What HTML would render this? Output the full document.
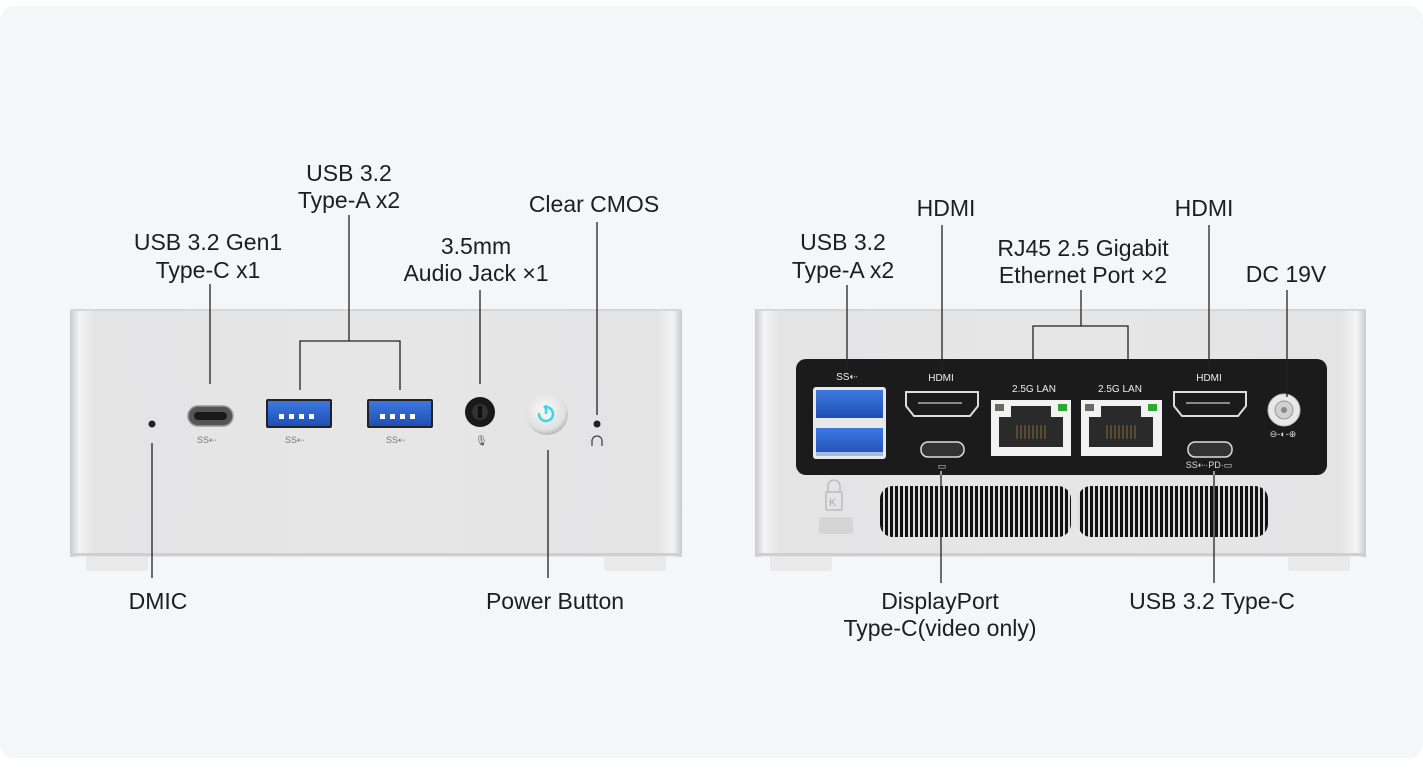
<!DOCTYPE html>
<html><head><meta charset="utf-8"><style>
html,body{margin:0;padding:0;background:#fff;width:1423px;height:784px;overflow:hidden}
svg{display:block}
text{font-family:"Liberation Sans",sans-serif;fill:#1e1e1e}
</style></head><body>
<svg width="1423" height="784" viewBox="0 0 1423 784" xmlns="http://www.w3.org/2000/svg">
<defs>
<linearGradient id="face" x1="0" x2="1" y1="0" y2="0">
<stop offset="0" stop-color="#c9c9cb"/><stop offset="0.015" stop-color="#f4f4f5"/><stop offset="0.04" stop-color="#e4e4e5"/>
<stop offset="0.5" stop-color="#e6e6e7"/><stop offset="0.96" stop-color="#e4e4e5"/><stop offset="0.985" stop-color="#f4f4f5"/><stop offset="1" stop-color="#c9c9cb"/>
</linearGradient>
<linearGradient id="blue" x1="0" x2="0" y1="0" y2="1"><stop offset="0" stop-color="#3d78e0"/><stop offset="1" stop-color="#1f4fb5"/></linearGradient>
<radialGradient id="btn" cx="0.45" cy="0.4" r="0.6"><stop offset="0" stop-color="#fafafa"/><stop offset="0.8" stop-color="#e0e0e0"/><stop offset="1" stop-color="#b8b8b8"/></radialGradient>
<pattern id="vent" width="5" height="10" patternUnits="userSpaceOnUse"><rect width="5" height="10" fill="#ddd"/><rect width="3" height="10" fill="#111"/></pattern>
</defs>
<rect x="0" y="0" width="1423" height="784" fill="#fff"/>
<rect x="0" y="6" width="1423" height="752" rx="14" fill="#f5f6f8"/>

<!-- FRONT DEVICE -->
<rect x="86" y="553" width="62" height="18" rx="3" fill="#e9e9ea"/>
<rect x="604" y="553" width="62" height="18" rx="3" fill="#e9e9ea"/>
<rect x="70" y="309" width="612" height="248" fill="url(#face)"/>
<rect x="70" y="309" width="612" height="2" fill="#d7d7d8"/>
<rect x="70" y="553" width="612" height="3" fill="#cfcfd0"/>
<circle cx="152" cy="424" r="3.5" fill="#222"/>
<rect x="188" y="406" width="45" height="20" rx="10" fill="#555" stroke="#999" stroke-width="1.5"/>
<rect x="194" y="412" width="33" height="8" rx="4" fill="#1a1a1a"/>
<rect x="266" y="399" width="66" height="29" rx="2" fill="#222"/>
<rect x="268" y="401" width="62" height="25" fill="url(#blue)"/>
<g fill="#fff"><rect x="279" y="414" width="5" height="5"/><rect x="289" y="414" width="5" height="5"/><rect x="299" y="414" width="5" height="5"/><rect x="309" y="414" width="5" height="5"/></g>
<rect x="367" y="399" width="66" height="29" rx="2" fill="#222"/>
<rect x="369" y="401" width="62" height="25" fill="url(#blue)"/>
<g fill="#fff"><rect x="380" y="414" width="5" height="5"/><rect x="390" y="414" width="5" height="5"/><rect x="400" y="414" width="5" height="5"/><rect x="410" y="414" width="5" height="5"/></g>
<g font-size="9" fill="#777"><text x="197" y="443" style="fill:#777">SS⇠</text><text x="285" y="443" style="fill:#777">SS⇠</text><text x="386" y="443" style="fill:#777">SS⇠</text></g>
<circle cx="480" cy="412" r="15" fill="#1a1a1a"/><circle cx="480" cy="412" r="8" fill="#333"/><rect x="478" y="406" width="4" height="12" fill="#111"/>
<text x="475" y="444" font-size="10" style="fill:#555">🎙</text>
<circle cx="547" cy="414" r="21" fill="url(#btn)"/>
<circle cx="546" cy="414" r="7" fill="none" stroke="#3ad8e6" stroke-width="2.5" stroke-dasharray="36 8" transform="rotate(-110 546 414)"/>
<line x1="546" y1="405" x2="546" y2="414" stroke="#3ad8e6" stroke-width="2.5"/>
<circle cx="597" cy="424" r="3.5" fill="#222"/>
<path d="M592 446 v-5 a5 5 0 0 1 10 0 v5" fill="none" stroke="#444" stroke-width="1.3"/>

<!-- front connectors -->
<g stroke="#222" stroke-width="1.3" fill="none">
<line x1="210" y1="284" x2="210" y2="384"/>
<line x1="349" y1="215" x2="349" y2="341"/>
<polyline points="300,390 300,341 400,341 400,390"/>
<line x1="480" y1="290" x2="480" y2="384"/>
<line x1="597" y1="222" x2="597" y2="415"/>
<line x1="152" y1="443" x2="152" y2="578"/>
<line x1="548" y1="450" x2="548" y2="578"/>
</g>
<g font-size="23" text-anchor="middle">
<text x="349" y="181">USB 3.2</text><text x="349" y="208">Type-A x2</text>
<text x="208" y="250">USB 3.2 Gen1</text><text x="208" y="278">Type-C x1</text>
<text x="476" y="254">3.5mm</text><text x="476" y="281">Audio Jack ×1</text>
<text x="594" y="212">Clear CMOS</text>
<text x="158" y="609">DMIC</text>
<text x="555" y="609">Power Button</text>
</g>

<!-- BACK DEVICE -->
<rect x="770" y="553" width="62" height="18" rx="3" fill="#e9e9ea"/>
<rect x="1288" y="553" width="62" height="18" rx="3" fill="#e9e9ea"/>
<rect x="755" y="309" width="611" height="248" fill="url(#face)"/>
<rect x="755" y="309" width="611" height="2" fill="#d7d7d8"/>
<rect x="755" y="553" width="611" height="3" fill="#cfcfd0"/>
<rect x="796" y="359" width="531" height="116" rx="10" fill="#1b1b1c"/>
<g font-size="10" text-anchor="middle" style="fill:#eee">
<text x="847" y="380" style="fill:#eee">SS⇠</text>
<text x="941" y="381" style="fill:#eee">HDMI</text>
<text x="1034" y="392" style="fill:#eee">2.5G LAN</text>
<text x="1120" y="392" style="fill:#eee">2.5G LAN</text>
<text x="1209" y="381" style="fill:#eee">HDMI</text>
<text x="1209" y="468" font-size="9" style="fill:#ddd">SS⇠·PD·▭</text>
<text x="1283" y="437" font-size="9" style="fill:#ddd">⊖-◐-⊕</text>
<text x="942" y="469" font-size="9" style="fill:#ddd">▭</text>
</g>
<rect x="813" y="387" width="73" height="72" rx="3" fill="#e8e8e8"/>
<rect x="816" y="390" width="67" height="28" fill="url(#blue)"/>
<rect x="816" y="428" width="67" height="28" fill="url(#blue)"/>
<rect x="816" y="452" width="67" height="4" fill="#fff" opacity="0.6"/>
<g fill="#1b1b1c" stroke="#ddd" stroke-width="2">
<path d="M906 392 h72 v14 l-8 10 h-56 l-8 -10 z"/>
<path d="M1174 392 h72 v14 l-8 10 h-56 l-8 -10 z"/>
</g>
<rect x="918" y="402" width="44" height="2" fill="#888"/><rect x="1186" y="402" width="44" height="2" fill="#888"/>
<rect x="921" y="442" width="43" height="15" rx="7" fill="#333" stroke="#ddd" stroke-width="1.5"/>
<rect x="1188" y="442" width="44" height="15" rx="7" fill="#333" stroke="#ddd" stroke-width="1.5"/>
<g>
<rect x="991" y="400" width="80" height="56" fill="#f2f2f2"/>
<path d="M999 417 h12 v-11 h40 v11 h12 v30 h-64 z" fill="#2a2a2a"/>
<rect x="995" y="404" width="9" height="7" fill="#6a6a60"/><rect x="1058" y="404" width="9" height="7" fill="#2fa82f"/>
<rect x="1081" y="400" width="81" height="56" fill="#f2f2f2"/>
<path d="M1089 417 h12 v-11 h40 v11 h12 v30 h-64 z" fill="#2a2a2a"/>
<rect x="1085" y="404" width="9" height="7" fill="#6a6a60"/><rect x="1148" y="404" width="9" height="7" fill="#2fa82f"/>
<g stroke="#8a6a3a" stroke-width="1"><path d="M1017 425 v14 M1021 425 v14 M1025 425 v14 M1029 425 v14 M1033 425 v14 M1037 425 v14 M1041 425 v14 M1045 425 v14"/><path d="M1107 425 v14 M1111 425 v14 M1115 425 v14 M1119 425 v14 M1123 425 v14 M1127 425 v14 M1131 425 v14 M1135 425 v14"/></g>
</g>
<circle cx="1284" cy="410" r="16" fill="#e8e8e8" stroke="#bbb"/><circle cx="1284" cy="410" r="9" fill="#d0d0d0" stroke="#999"/><circle cx="1284" cy="410" r="3" fill="#888"/>
<path d="M828 492 v-6 a6 6 0 0 1 12 0 v6" fill="none" stroke="#bbb" stroke-width="1.5"/>
<rect x="826" y="492" width="16" height="18" rx="1" fill="none" stroke="#bbb" stroke-width="1.5"/>
<text x="829" y="506" font-size="11" style="fill:#aaa">K</text>
<rect x="819" y="517" width="34" height="17" rx="2" fill="#d5d5d6"/>
<rect x="880" y="486" width="191" height="51" rx="13" fill="url(#vent)"/>
<rect x="1078" y="486" width="190" height="51" rx="13" fill="url(#vent)"/>

<g stroke="#222" stroke-width="1.3" fill="none">
<line x1="847" y1="285" x2="847" y2="370"/>
<line x1="942" y1="225" x2="942" y2="370"/>
<line x1="1081" y1="290" x2="1081" y2="326"/>
<polyline points="1033,360 1033,326 1128,326 1128,360"/>
<line x1="1209" y1="225" x2="1209" y2="370"/>
<line x1="1287" y1="290" x2="1287" y2="397"/>
</g>
<g stroke="#ddd" stroke-width="1.3"><line x1="941" y1="471" x2="941" y2="475"/><line x1="1214" y1="471" x2="1214" y2="475"/></g>
<g stroke="#222" stroke-width="1.3"><line x1="941" y1="475" x2="941" y2="583"/><line x1="1214" y1="475" x2="1214" y2="583"/></g>
<g font-size="23" text-anchor="middle">
<text x="946" y="216">HDMI</text>
<text x="843" y="250">USB 3.2</text><text x="843" y="278">Type-A x2</text>
<text x="1083" y="256">RJ45 2.5 Gigabit</text><text x="1083" y="283">Ethernet Port ×2</text>
<text x="1204" y="216">HDMI</text>
<text x="1286" y="282">DC 19V</text>
<text x="940" y="609">DisplayPort</text><text x="940" y="636">Type-C(video only)</text>
<text x="1212" y="609">USB 3.2 Type-C</text>
</g>
</svg>
</body></html>
